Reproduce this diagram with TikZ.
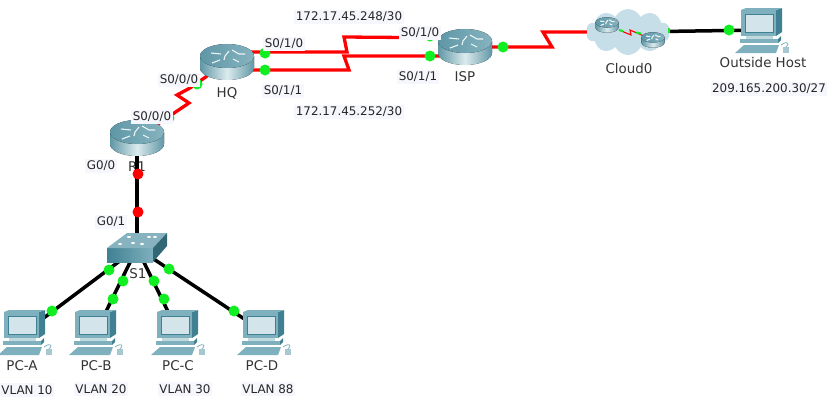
\documentclass[tikz,border=0pt]{standalone}
\usepackage{fontspec}
\setmainfont{DejaVu Sans}
\usetikzlibrary{backgrounds,shapes.symbols}
\definecolor{rtdark}{HTML}{5F97A6}
\definecolor{rtlight}{HTML}{DCEBEE}
\definecolor{rttop}{HTML}{86B3BF}
\definecolor{pcdark}{HTML}{3F8193}
\definecolor{pcmid}{HTML}{7FB0BD}
\definecolor{pcscreen}{HTML}{D3E4EA}
\definecolor{lblbg}{HTML}{F6F6FD}
\definecolor{cloudblue}{HTML}{C6DEE8}
\definecolor{linkred}{HTML}{FF0000}
\definecolor{dotgreen}{HTML}{11EE22}
\tikzset{
  dev/.style  ={inner sep=0pt,minimum size=1pt},
  ser/.style  ={draw=linkred,line width=3.3pt,line join=miter},
  eth/.style  ={draw=black,line width=3.5pt},
  gdot/.style ={circle,fill=dotgreen,inner sep=0pt,minimum size=11pt},
  rdot/.style ={circle,fill=linkred,inner sep=0pt,minimum size=11pt},
  lbl/.style  ={fill=lblbg,inner sep=1.5pt,minimum height=14pt,font=\fontsize{11.9}{13}\selectfont,text=black!85},
  devname/.style ={inner sep=0pt,font=\fontsize{13.4}{15}\selectfont,text=black!80},
  pics/routericon/.style={code={
    \fill[left color=rtdark,right color=rtdark,middle color=rtlight]
      (-27,6) -- (-27,-6) arc (180:360:27 and 12) -- (27,6) -- cycle;
    \fill[left color=rtdark,right color=rttop] (0,6) ellipse (27 and 12);
    \draw[white!85!rttop,line width=1.1pt]
      (-16,9) -- (-6,8) (-7,2) -- (-15,-1) (5,12) -- (12,8) -- (18,8) (6,3) -- (12,0)
      (-2,6) -- (2,11) (-2,6) -- (-3,2);
  }},
  pics/pcicon/.style={code={
    \begin{scope}[shift={(2,0)}]
    \fill[pcdark] (12,20) -- (18,22) -- (18,-2) -- (12,-6) -- cycle;
    \fill[pcmid] (-23,20) -- (12,20) -- (18,22) -- (-18,22) -- cycle;
    \fill[pcmid] (-23,20) rectangle (12,-6);
    \fill[pcscreen] (-19,16) rectangle (9,-2);
    \draw[pcdark,line width=.8pt] (-19,16) rectangle (9,-2);
    \fill[rtlight!70!pcmid] (-18,-6) rectangle (9,-9);
    \fill[pcmid] (-24,-9) rectangle (14,-13);
    \fill[pcdark] (14,-9) -- (17,-6) -- (17,-10) -- (14,-13) -- cycle;
    \fill[pcmid] (-29,-23) -- (-20,-15) -- (15,-15) -- (12,-23) -- cycle;
    \draw[pcmid,line width=.8pt] (17,-15) .. controls (24,-10) and (26,-14) .. (22,-17);
    \fill[pcmid!70] (19,-17) rectangle (25,-23);
    \end{scope}
  }},
  pics/switchicon/.style={code={
    \fill[left color=pcdark,right color=pcmid] (-30,0) rectangle (16,-14);
    \fill[rttop] (-30,0) -- (-10,15) -- (30,15) -- (16,0) -- cycle;
    \fill[pcdark!80!black] (16,0) -- (30,15) -- (30,2) -- (16,-14) -- cycle;
    \foreach \i/\j in {-17/4,-8/11,5/4,12/11,-4/5,18/11}
      \fill[white] (\i,\j) ellipse (2 and 1);
  }},
}
\begin{document}
\begin{tikzpicture}[x=1pt,y=1pt]
\useasboundingbox (0,0) rectangle (833,-400);
% devices
\node[dev] (R1) at (137,-138) {};
\node[dev] (HQ) at (227,-62) {};
\node[dev] (ISP) at (465,-47) {};
\node[dev] (S1) at (137,-248) {};
\node[dev] (PCA) at (25,-332) {};
\node[dev] (PCB) at (96,-332) {};
\node[dev] (PCC) at (178,-332) {};
\node[dev] (PCD) at (264,-332) {};
\node[dev] (HOST) at (762,-30) {};
\node[cloud,cloud puffs=10,cloud puff arc=130,aspect=1.9,fill=cloudblue,inner sep=0pt,
      minimum width=84pt,minimum height=46pt] (CL) at (628,-32) {};
\foreach \r in {R1,HQ,ISP} \pic at (\r) {routericon};
\foreach \p in {PCA,PCB,PCC,PCD,HOST} \pic at (\p) {pcicon};
\pic at (S1) {switchicon};
\node[dev] (CLA) at (607,-25) {};
\node[dev] (CLB) at (653,-40) {};
\pic[scale=.43,transform shape] at (CLA) {routericon};
% port points of the serial links
\coordinate (hqT) at (227,-52);
\coordinate (hqB) at (227,-70);
\coordinate (ispT) at (465,-38);
\coordinate (ispB) at (465,-56);
\coordinate (ispP) at (465,-47);
\coordinate (clP) at (628,-32);
\coordinate (k1) at (347,-52);
\coordinate (k2) at (344,-37);
\coordinate (k3) at (349,-70);
\coordinate (k4) at (344,-56);
\coordinate (k5) at (552,-47);
\coordinate (k6) at (543,-32);
\coordinate (k7) at (189,-103);
\coordinate (k8) at (177,-95);
\coordinate (k9) at (190,-88);
\begin{scope}[on background layer]
\node[devname] (R1t) at (137,-167) {R1};
\draw[eth] (R1) -- (S1);
\foreach \p in {PCA,PCB,PCC,PCD} \draw[eth] (S1) -- (\p);
\draw[eth] (CL) -- (HOST);
\draw[ser] (R1) -- (k7) -- (k8) -- (k9) -- (HQ);
\draw[ser] (hqT) -- (k1) -- (k2) -- (ispT);
\draw[ser] (hqB) -- (k3) -- (k4) -- (ispB);
\draw[ser] (ispP) -- (k5) -- (k6) -- (clP);
\foreach \x/\y [count=\i] in {169/118,197/84,265/53,265/70,430/36,430/56,503/47,729/30,
    109/270,52/311,123/281,113/299,154/281,164/299,169/269,234/311}
  \node[gdot] (g\i) at (\x,-\y) {};
\foreach \x/\y [count=\i] in {138/174,138/212}
  \node[rdot] (r\i) at (\x,-\y) {};
\end{scope}
% link inside the cloud
\coordinate (c0) at (619,-30);
\coordinate (c1) at (631,-35);
\coordinate (c2) at (630,-30);
\draw[draw=linkred,line width=1.1pt] (c0) -- (c1) -- (c2) -- (CLB);
\draw[draw=dotgreen,line width=2pt] (c0) -- ++(4,-1) (636,-32.5) -- (641,-33.5);
\fill[dotgreen] (668,-28) rectangle (670,-33);
\pic[scale=.43,transform shape] at (CLB) {routericon};
% labels
\node[lbl] (n1) at (349,-17) {172.17.45.248/30};
\node[lbl] (n2) at (349,-112) {172.17.45.252/30};
\node[lbl] (n3) at (284,-44) {S0/1/0};
\node[lbl] (n4) at (283,-91) {S0/1/1};
\node[lbl] (n5) at (420,-33) {S0/1/0};
\node[lbl] (n6) at (418,-77) {S0/1/1};
\node[lbl] (n7) at (179,-80) {S0/0/0};
\node[lbl] (n8) at (152,-117) {S0/0/0};
\node[lbl] (n9) at (101,-166) {G0/0};
\node[lbl] (n10) at (111,-222) {G0/1};
\node[lbl] (n11) at (769,-89) {209.165.200.30/27};
\node[lbl] (v1) at (27,-390) {VLAN 10};
\node[lbl] (v2) at (101,-389) {VLAN 20};
\node[lbl] (v3) at (185,-389) {VLAN 30};
\node[lbl] (v4) at (268,-389) {VLAN 88};
\node[devname] (t1) at (227,-93) {HQ};
\node[devname] (t2) at (465,-77) {ISP};
\node[devname] (t3) at (629,-68) {Cloud0};
\node[devname] (t4) at (763,-63) {Outside Host};
\node[devname] (t5) at (138,-274) {S1};
\node[devname] (t6) at (22,-366) {PC-A};
\node[devname] (t7) at (96,-366) {PC-B};
\node[devname] (t8) at (178,-366) {PC-C};
\node[devname] (t9) at (262,-366) {PC-D};
\end{tikzpicture}
\end{document}
